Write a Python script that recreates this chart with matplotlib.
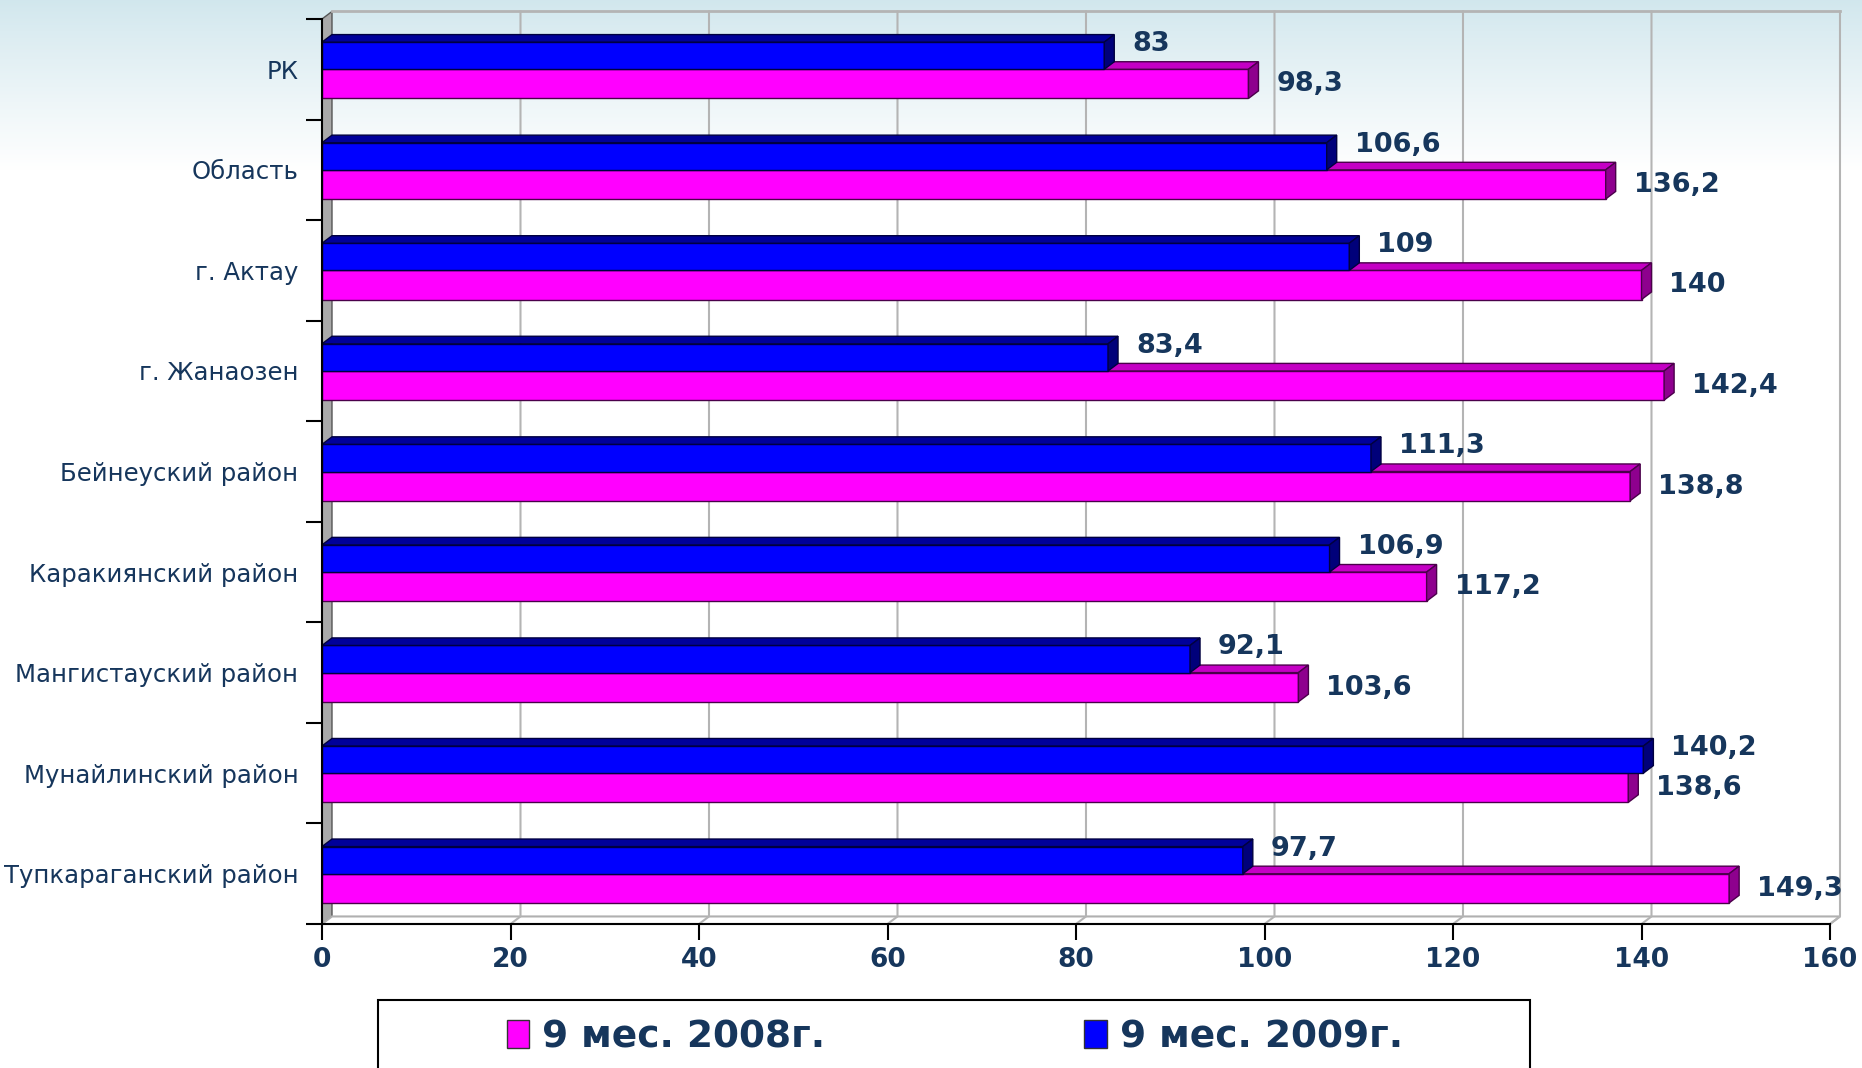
import numpy as np
import matplotlib
matplotlib.use('Agg')
import matplotlib.pyplot as plt
from matplotlib.patches import Polygon, Rectangle, Patch

# data
categories = ['РК', 'Область', 'г. Актау', 'г. Жанаозен', 'Бейнеуский район',
              'Каракиянский район', 'Мангистауский район', 'Мунайлинский район',
              'Тупкараганский район']
vals_2008 = [98.3, 136.2, 140, 142.4, 138.8, 117.2, 103.6, 138.6, 149.3]
vals_2009 = [83, 106.6, 109, 83.4, 111.3, 106.9, 92.1, 140.2, 97.7]
series_names = ['9 мес. 2008г.', '9 мес. 2009г.']
x_ticks = [0, 20, 40, 60, 80, 100, 120, 140, 160]

TEXT = '#16365c'
DX = 1.06     # depth of the 3d effect, x data units
DY = 0.075    # depth of the 3d effect, category units


def fmt(v):
    return f'{v:g}'.replace('.', ',')


def bar3d(ax, y, h, v, front, top, side, edge, z):
    # y is the upper edge of the front face (y axis is inverted)
    ax.barh(y + h / 2, v, height=h, color=front, edgecolor=edge, linewidth=1, zorder=z)
    ax.add_patch(Polygon([(0, y), (v, y), (v + DX, y - DY), (DX, y - DY)],
                         closed=True, fc=top, ec=edge, lw=1, zorder=z))
    ax.add_patch(Polygon([(v, y), (v, y + h), (v + DX, y + h - DY), (v + DX, y - DY)],
                         closed=True, fc=side, ec=edge, lw=1, zorder=z))


fig = plt.figure(figsize=(18.62, 10.68), dpi=100)

# background gradient
bg = fig.add_axes([0, 0, 1, 1])
bg.set_zorder(0)
rows = np.arange(1068)
s = np.clip(rows / 170.0, 0, 1) ** 0.9
top_c = np.array([0.82, 0.905, 0.93])
grad = top_c[None, :] * (1 - s[:, None]) + np.ones(3)[None, :] * s[:, None]
bg.imshow(np.repeat(grad[:, None, :], 4, axis=1), extent=[0, 1, 0, 1], aspect='auto')
bg.set_xlim(0, 1)
bg.set_ylim(0, 1)
bg.axis('off')
# legend frame
bg.add_patch(Rectangle((378 / 1862, -0.02), 1152 / 1862, 0.02 + 68 / 1068,
                       fc='white', ec='black', lw=1.5, zorder=3))

ax = fig.add_axes([322 / 1862, (1068 - 924) / 1068, 1508 / 1862, 905 / 1068])
ax.set_zorder(1)
ax.patch.set_visible(False)

n = len(categories)
ax.set_xlim(0, 160)
ax.set_ylim(n - 0.5, -0.5)

# walls and floor
back_top = -0.5 - DY
floor_back = n - 0.5 - DY
ax.add_patch(Polygon([(0, -0.5), (DX, back_top), (DX, floor_back), (0, n - 0.5)],
                     closed=True, fc='#a9a9a9', ec='#555555', lw=1, zorder=1, clip_on=False))
ax.add_patch(Polygon([(0, n - 0.5), (160, n - 0.5), (160 + DX, floor_back), (DX, floor_back)],
                     closed=True, fc='white', ec='#b0b0b0', lw=1.5, zorder=1, clip_on=False))
for t in x_ticks[1:]:
    ax.plot([t, t + DX, t + DX], [n - 0.5, floor_back, back_top], color='#b4b4b4',
            lw=1.5, zorder=1.5, clip_on=False)
ax.plot([DX, 160 + DX], [back_top, back_top], color='#b4b4b4', lw=2, zorder=1.5, clip_on=False)

# bars: 2008 (lower) first, 2009 drawn over it
for i in range(n):
    bar3d(ax, i, 0.29, vals_2008[i], '#ff00ff', '#c400c4', '#8e008e', '#4a004a', 3)
    bar3d(ax, i - 0.27, 0.27, vals_2009[i], '#0000ff', '#00009a', '#00007a', '#000040', 4)
    ax.annotate(fmt(vals_2009[i]), (vals_2009[i] + DX, i - 0.25), xytext=(18, 0),
                textcoords='offset pixels', ha='left', va='center', fontsize=19.5,
                fontweight='bold', color=TEXT, zorder=6, annotation_clip=False)
    ax.annotate(fmt(vals_2008[i]), (vals_2008[i] + DX, i + 0.15), xytext=(18, 0),
                textcoords='offset pixels', ha='left', va='center', fontsize=19.5,
                fontweight='bold', color=TEXT, zorder=6, annotation_clip=False)

# axes
for side in ['top', 'right']:
    ax.spines[side].set_visible(False)
ax.spines['left'].set_linewidth(1.5)
ax.spines['bottom'].set_linewidth(1.5)
ax.spines['left'].set_zorder(5)
ax.spines['bottom'].set_zorder(5)

ax.set_yticks(range(n))
ax.set_yticklabels(categories, fontsize=17.6, color=TEXT)
ax.set_yticks(np.arange(-0.5, n, 1), minor=True)
ax.tick_params(axis='y', which='major', length=0, pad=17)
ax.tick_params(axis='y', which='minor', length=11.5, width=1.5, direction='out')

ax.set_xticks(x_ticks)
ax.set_xticklabels([str(t) for t in x_ticks], fontsize=19, fontweight='bold', color=TEXT)
ax.tick_params(axis='x', length=11.5, width=1.5, direction='out', pad=5)

# legend
handles = [Patch(fc='#ff00ff', ec='#333333', lw=1), Patch(fc='#0000ff', ec='#333333', lw=1)]
leg = fig.legend(handles, series_names, loc='center left', ncol=2,
                 bbox_to_anchor=(488 / 1862, 1 - 1037 / 1068), frameon=False,
                 handlelength=0.6, handleheight=0.75, handletextpad=0.35,
                 columnspacing=6.9, borderpad=0,
                 prop={'size': 27, 'weight': 'bold'})
for t in leg.get_texts():
    t.set_color(TEXT)
leg.set_zorder(10)

fig.savefig('out.png', dpi=100)
